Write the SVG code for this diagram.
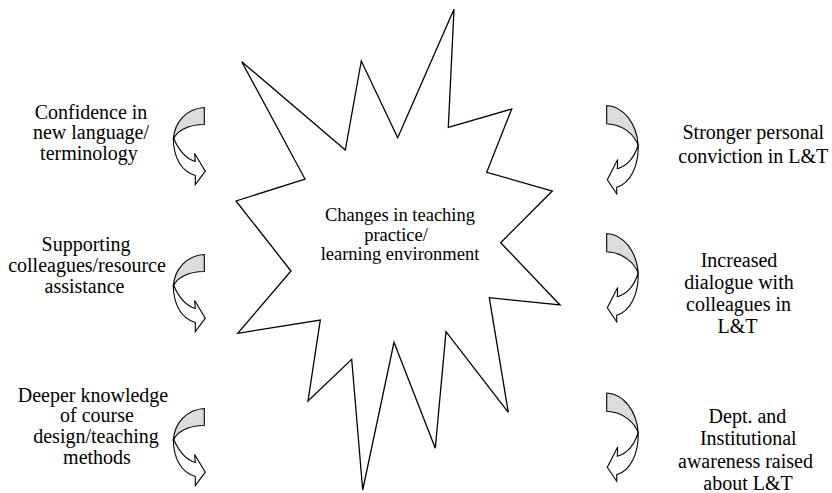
<svg xmlns="http://www.w3.org/2000/svg" xmlns:xlink="http://www.w3.org/1999/xlink" width="832" height="493" viewBox="0 0 832 493">
<style>
  text { font-family: 'Liberation Serif', 'DejaVu Serif', serif; fill: #000; text-anchor: middle; }
  .t { font-size: 20px; }
  .tc { font-size: 18.5px; }
  .star { fill: #fff; stroke: #000; stroke-width: 1.3; stroke-linejoin: miter; }
  .back { fill: #dcdcdc; stroke: #000; stroke-width: 1.1; stroke-linejoin: round; }
  .front { fill: #fff; stroke: #000; stroke-width: 1.1; stroke-linejoin: miter; }
</style>
<defs>
  <g id="arrowL">
    <path class="back" d="M31,0 C14,1 1,14 0,32 C3,24 14,17 31,17 Z"/>
    <path class="front" d="M0,30 C5,42 12,51 22,54 L21.3,46 L32,63.7 L22,77 L22,68 C8,64 0,50 0,30 Z"/>
  </g>
  <g id="arrowR">
    <path class="back" d="M0,0 C17,1 30,18 31.6,40 C28,30 17,19 0,18.3 Z"/>
    <path class="front" d="M31.6,39 C28,52 20,61 10.6,63.3 L11,54 L0.6,74.3 L10,88.3 L10,81.7 C24,78 32,60 31.6,39 Z"/>
  </g>
</defs>
<rect width="832" height="493" fill="#fff"/>

<g id="center">
  <polygon class="star" points="454,9.3 448.3,127.3 511.7,109 486.7,172.3 552.3,191 500.7,242.7 560,305 489.3,297.7 508.3,412.3 446,331.7 435.3,448.3 394,342.3 362.7,490 351.7,359.3 308,401 320.3,320 237.7,333.3 291,271 236,201 305,179 241.7,61.7 345.3,150 361.3,61 397.7,137.7"/>
  <text class="tc" font-family="Liberation Serif, serif" x="400" y="221">Changes in teaching</text>
  <text class="tc" font-family="Liberation Serif, serif" x="396" y="241">practice/</text>
  <text class="tc" font-family="Liberation Serif, serif" x="400" y="260">learning environment</text>
</g>

<g id="connectors">
  <use xlink:href="#arrowL" transform="translate(173.3,107.5)"/>
  <use xlink:href="#arrowL" transform="translate(173.3,254.5)"/>
  <use xlink:href="#arrowL" transform="translate(173.3,408.5)"/>
  <use xlink:href="#arrowR" transform="translate(606.7,105.5)"/>
  <use xlink:href="#arrowR" transform="translate(606.7,233.5)"/>
  <use xlink:href="#arrowR" transform="translate(606.7,393)"/>
</g>

<g id="confidence" font-family="Liberation Serif, serif">
  <text class="t" x="91" y="118.5">Confidence in</text>
  <text class="t" x="91" y="139">new language/</text>
  <text class="t" x="89" y="159.5">terminology</text>
</g>
<g id="supporting" font-family="Liberation Serif, serif">
  <text class="t" x="86" y="251">Supporting</text>
  <text class="t" x="87" y="272">colleagues/resource</text>
  <text class="t" x="84.5" y="293">assistance</text>
</g>
<g id="deeper" font-family="Liberation Serif, serif">
  <text class="t" x="93" y="402">Deeper knowledge</text>
  <text class="t" x="97" y="422">of course</text>
  <text class="t" x="96" y="443">design/teaching</text>
  <text class="t" x="97" y="464">methods</text>
</g>
<g id="stronger" font-family="Liberation Serif, serif">
  <text class="t" x="753.3" y="139">Stronger personal</text>
  <text class="t" x="753.3" y="163">conviction in L&amp;T</text>
</g>
<g id="dialogue" font-family="Liberation Serif, serif">
  <text class="t" x="739" y="267">Increased</text>
  <text class="t" x="739" y="289">dialogue with</text>
  <text class="t" x="738.5" y="311">colleagues in</text>
  <text class="t" x="737.5" y="333">L&amp;T</text>
</g>
<g id="awareness" font-family="Liberation Serif, serif">
  <text class="t" x="747.5" y="423">Dept. and</text>
  <text class="t" x="748.3" y="445">Institutional</text>
  <text class="t" x="745.5" y="468">awareness raised</text>
  <text class="t" x="748" y="490">about L&amp;T</text>
</g>
</svg>
